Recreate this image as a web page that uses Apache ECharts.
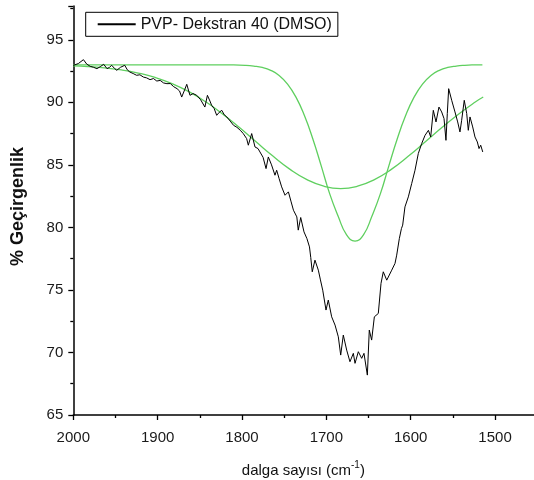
<!DOCTYPE html>
<html><head><meta charset="utf-8">
<script src="https://cdn.jsdelivr.net/npm/echarts@6/dist/echarts.min.js"></script>
<style>html,body{margin:0;padding:0;background:#fff}#c{width:534px;height:480px}</style>
</head><body><div id="c"></div>
<script>
const seriesName = 'PVP- Dekstran 40 (DMSO)';
const xTitle = '{a|dalga sayısı (cm}{s|-1}{a|)}';
const yTitle = '% Geçirgenlik';
const xTickLabels = [2000, 1900, 1800, 1700, 1600, 1500];
const yTickLabels = [65, 70, 75, 80, 85, 90, 95];

// measured spectrum (wavenumber, % transmittance)
const spectrumWn = [2000,1994,1988,1984,1980,1976,1972,1968,1964,1960,1957,1954.5,1951,1948.5,1944,1939,1936,1933,1929,1925,1921,1917,1913,1909,1905,1901,1897,1893,1889,1885,1881,1877,1874,1871.5,1868,1865.5,1861.7,1858,1853.7,1849,1844,1841,1838,1836,1833,1830,1827,1824,1821,1818,1814,1810,1806,1802,1798.5,1794.5,1792.5,1788.5,1784.6,1781,1778.7,1775,1771.5,1768.8,1765,1760.9,1758.9,1756,1753,1749,1745,1742,1739,1735,1733.3,1730.4,1726.5,1723,1720,1718.5,1716.7,1713.5,1709.5,1707,1704.3,1700.4,1697.7,1693.7,1689.7,1685.8,1683,1679.9,1675.9,1672,1668,1666,1662.1,1658.1,1655.4,1651.4,1649.1,1646.3,1643.1,1638.4,1635.2,1632.5,1628.4,1622.5,1618.6,1616.6,1613.5,1611,1609.5,1606.8,1602.8,1598.8,1594.9,1591,1587,1583,1579,1576.3,1573.2,1570,1566.5,1563.3,1560.5,1558.2,1556.6,1555,1551.4,1547.5,1544.3,1541.6,1539.6,1536.5,1533.6,1531.7,1529.7,1526.5,1523.8,1521,1519,1517,1514.6];
const spectrumT = [92.95,93.1,93.41,93.05,92.88,92.8,92.69,92.85,93.04,92.69,92.8,92.96,92.7,92.56,92.8,92.96,92.6,92.42,92.3,92.16,92.2,92.02,91.95,91.81,91.9,91.7,91.75,91.55,91.49,91.5,91.25,91.09,90.9,90.42,91.0,91.44,90.56,90.7,90.56,90.2,89.62,90.56,90.1,89.76,89.5,88.96,89.2,89.36,89.0,88.83,88.5,88.16,88.0,87.76,87.5,87.1,86.57,87.5,86.43,86.3,86.03,85.6,84.7,85.63,85.0,84.17,84.57,83.9,83.24,82.57,82.84,82.1,81.37,80.84,79.78,80.79,79.64,79.1,78.44,77.6,76.45,77.38,76.58,75.8,74.98,73.39,74.19,72.85,72.19,71.25,69.79,71.39,70.19,69.26,69.93,69.13,70.06,69.53,69.93,68.19,71.79,70.99,72.85,73.12,75.52,76.45,75.78,76.58,77.12,77.78,79.1,79.9,80.18,81.64,82.44,83.51,84.57,85.9,86.7,87.36,87.76,87.23,89.36,88.43,89.62,89.23,88.7,86.96,89.1,91.09,90.16,89.23,88.43,87.63,88.56,90.16,89.1,87.76,88.83,88.03,87.23,86.83,86.3,86.57,86.03];

// narrow fitted band
const narrowWn = [2000,1950,1900,1850,1810,1796,1786,1776,1766,1756,1746,1736,1726,1716,1706,1696,1686,1676,1666,1656,1646,1636,1626,1616,1606,1596,1586,1576,1566,1556,1546,1536,1526,1515];
const narrowT = [93.0,93.0,93.0,93.0,92.99,92.96,92.9,92.79,92.56,92.15,91.46,90.41,88.94,87.07,84.9,82.68,80.9,79.4,78.9,79.4,80.9,82.68,84.9,87.07,88.94,90.41,91.46,92.15,92.56,92.79,92.9,92.96,92.99,93.0];

// broad fitted band
const broadWn = [2000,1983,1963,1943,1923,1903,1883,1863,1843,1823,1803,1783,1763,1743,1723,1703,1683,1663,1643,1623,1603,1583,1563,1543,1523,1514];
const broadT = [92.91,92.86,92.75,92.59,92.34,91.99,91.5,90.85,90.04,89.07,87.98,86.82,85.68,84.64,83.82,83.29,83.1,83.29,83.82,84.64,85.68,86.82,87.98,89.07,90.04,90.42];

const pair = (xs, ys) => xs.map((x, i) => [x, ys[i]]);
const chart = echarts.init(document.getElementById('c'));
const axisCol = '#000';
const font = 'Liberation Sans, Arial, sans-serif';
chart.setOption({
  animation: false,
  backgroundColor: '#fff',
  grid: { left: 73.3, top: 6, height: 409, width: 506.1, containLabel: false, outerBoundsMode: 'none' },
  legend: {
    data: [seriesName], left: 85.7, top: 12.3, padding: [4, 6, 4, 11],
    borderColor: '#000', borderWidth: 1, itemWidth: 38, itemHeight: 1.2, itemGap: 0,
    textStyle: { fontFamily: font, fontSize: 16, color: '#111', lineHeight: 16 }
  },
  xAxis: {
    type: 'value', inverse: true, min: 1400, max: 2000, interval: 100,
    name: xTitle, nameLocation: 'middle', nameGap: 45,
    nameTextStyle: {
      fontFamily: font, fontSize: 15, color: '#111', padding: [0, 46, 0, 0],
      rich: {
        a: { fontFamily: font, fontSize: 15, color: '#111', lineHeight: 18, verticalAlign: 'bottom' },
        s: { fontFamily: font, fontSize: 10, color: '#111', lineHeight: 18, verticalAlign: 'top' }
      }
    },
    axisLine: { show: true, onZero: false, lineStyle: { color: axisCol, width: 1.5 } },
    axisTick: { show: true, inside: false, length: 5, lineStyle: { color: axisCol, width: 1.3 } },
    minorTick: { show: true, splitNumber: 2, length: 3, lineStyle: { color: axisCol, width: 1.3 } },
    splitLine: { show: false },
    axisLabel: {
      margin: 15, fontFamily: font, fontSize: 15, color: '#1a1a1a',
      formatter: v => xTickLabels.includes(v) ? String(v) : ''
    }
  },
  yAxis: {
    type: 'value', min: 65, max: 97.7, interval: 5,
    name: yTitle, nameLocation: 'middle', nameGap: 46, nameRotate: 90,
    nameTextStyle: { fontFamily: font, fontSize: 18, fontWeight: 'bold', color: '#111', padding: [0, 0, 0, 8] },
    axisLine: { show: true, onZero: false, lineStyle: { color: axisCol, width: 1.5 } },
    axisTick: { show: true, inside: false, length: 5, lineStyle: { color: axisCol, width: 1.3 } },
    minorTick: { show: true, splitNumber: 2, length: 3, lineStyle: { color: axisCol, width: 1.3 } },
    splitLine: { show: false },
    axisLabel: {
      margin: 10, fontFamily: font, fontSize: 15, color: '#1a1a1a', showMaxLabel: false,
      formatter: v => yTickLabels.includes(v) ? String(v) : ''
    }
  },
  series: [
    { name: 'narrow', type: 'line', data: pair(narrowWn, narrowT), symbol: 'none', smooth: 0.5,
      lineStyle: { color: '#5fcf5f', width: 1.3 }, z: 2 },
    { name: 'broad', type: 'line', data: pair(broadWn, broadT), symbol: 'none', smooth: 0.5,
      lineStyle: { color: '#5fcf5f', width: 1.3 }, z: 2 },
    { name: seriesName, type: 'line', data: pair(spectrumWn, spectrumT), symbol: 'none', legendIcon: 'rect',
      itemStyle: { color: '#000' }, lineStyle: { color: '#000', width: 1 }, z: 3 }
  ]
});
</script></body></html>
